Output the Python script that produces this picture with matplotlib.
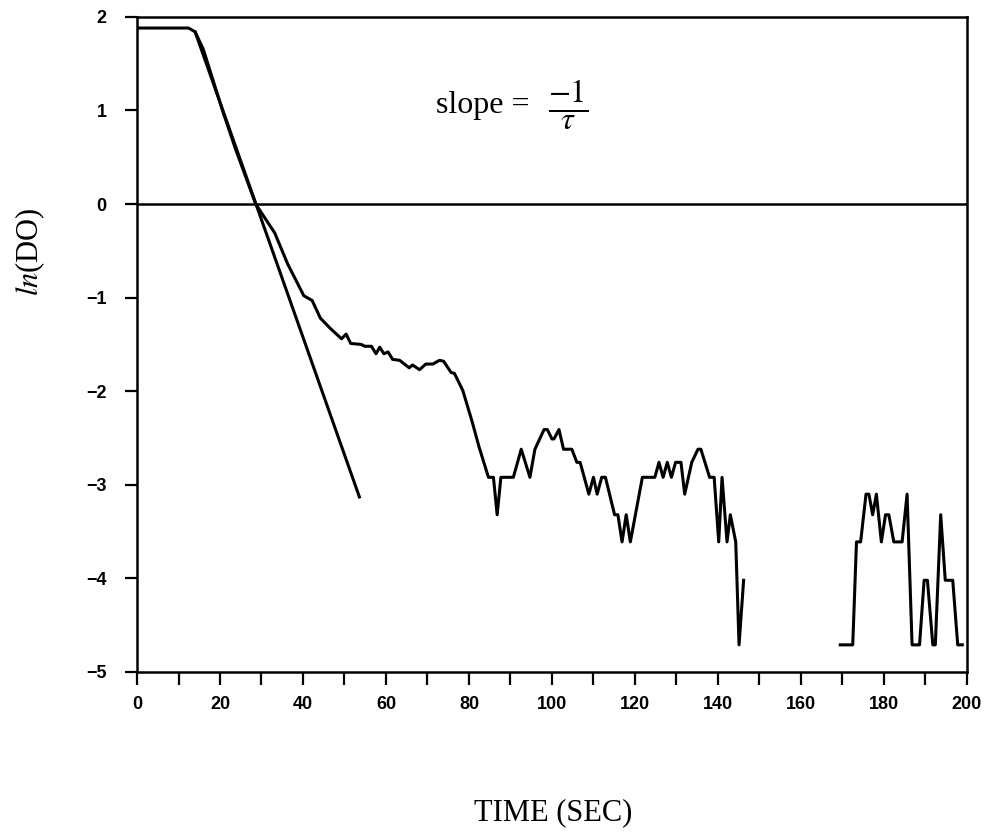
import numpy as np
import matplotlib
matplotlib.use("Agg")
import matplotlib.pyplot as plt
from matplotlib.ticker import MultipleLocator

time_s = [0.0, 12.4, 14.0, 16.0, 20.6, 23.8, 28.6,
          33.2, 36.3, 40.2, 42.2, 44.2, 46.6, 49.3, 50.4, 51.5, 54.0,
          54.9, 56.5, 57.6, 58.5, 59.5, 60.5, 61.6, 63.3, 65.6, 66.4,
          68.1, 69.6, 71.3, 72.9, 73.9, 75.7, 76.5, 78.5, 80.8, 82.4,
          84.7, 85.9, 86.8, 87.7, 90.7, 92.6, 94.7, 95.9, 98.1, 98.9,
          100.0, 100.5, 101.7, 102.8, 104.8, 106.0, 106.8, 108.9, 110.0,
          110.9, 112.0, 112.9, 115.1, 115.9, 116.9, 117.9, 118.9, 121.8,
          124.8, 125.8, 126.8, 127.8, 128.8, 129.8, 131.1, 132.0, 133.7,
          135.2, 135.9, 138.0, 139.1, 140.2, 141.0, 142.2, 143.0, 144.3,
          145.1, 146.2,
          np.nan,
          169.5, 172.5, 173.4, 174.4, 175.7, 176.4, 177.3, 178.2, 179.4,
          180.4, 181.2, 182.4, 184.4, 185.6, 186.8, 188.6, 189.7, 190.5,
          191.8, 192.4, 193.7, 194.8, 196.6, 197.8, 198.9]
ln_do = [1.88, 1.88, 1.84, 1.65, 1.00, 0.58, 0.00,
         -0.31, -0.64, -0.98, -1.03, -1.22, -1.33, -1.44, -1.39, -1.49, -1.50,
         -1.52, -1.52, -1.60, -1.53, -1.60, -1.58, -1.66, -1.67, -1.75, -1.72,
         -1.77, -1.71, -1.71, -1.67, -1.68, -1.80, -1.81, -1.99, -2.33, -2.59,
         -2.92, -2.92, -3.32, -2.92, -2.92, -2.62, -2.92, -2.62, -2.41, -2.41,
         -2.51, -2.51, -2.41, -2.62, -2.62, -2.76, -2.76, -3.10, -2.92,
         -3.10, -2.92, -2.92, -3.32, -3.32, -3.61, -3.32, -3.61, -2.92,
         -2.92, -2.76, -2.92, -2.76, -2.92, -2.76, -2.76, -3.10, -2.76,
         -2.62, -2.62, -2.92, -2.92, -3.61, -2.92, -3.61, -3.32, -3.61,
         -4.71, -4.02,
         np.nan,
         -4.71, -4.71, -3.61, -3.61, -3.10, -3.10, -3.32, -3.10, -3.61,
         -3.32, -3.32, -3.61, -3.61, -3.10, -4.71, -4.71, -4.02, -4.02,
         -4.71, -4.71, -3.32, -4.02, -4.02, -4.71, -4.71]

# straight-line fit through the initial decay (slope = -1/tau)
fit_time = [14.0, 53.6]
fit_ln = [1.84, -3.13]

plt.rcParams['mathtext.fontset'] = 'stix'
serif = 'Liberation Serif'

fig = plt.figure(figsize=(9.95, 8.4), dpi=100, facecolor='w')
ax = fig.add_axes([0.1377, 0.2, 0.834, 0.78])

ax.plot(time_s, ln_do, color='k', lw=2.2)
ax.plot(fit_time, fit_ln, color='k', lw=2.2)
ax.axhline(0, color='k', lw=1.8)

ax.set_xlim(0, 200)
ax.set_ylim(-5, 2)
ax.xaxis.set_major_locator(MultipleLocator(20))
ax.xaxis.set_minor_locator(MultipleLocator(10))
ax.yaxis.set_major_locator(MultipleLocator(1))
ax.tick_params(axis='both', which='both', direction='out', length=9,
               width=1.6, color='k')
ax.tick_params(axis='x', pad=8)
ax.tick_params(axis='y', pad=13)
for lab in ax.get_xticklabels() + ax.get_yticklabels():
    lab.set_fontfamily('Liberation Sans')
    lab.set_fontweight('bold')
    lab.set_fontsize(13)
for sp in ax.spines.values():
    sp.set_linewidth(1.8)

ax.text(72.0, 0.97, 'slope =', fontsize=23, family=serif,
        ha='left', va='baseline')
ax.text(104.0, 1.05, r'$\frac{-1}{\tau}$', fontsize=33,
        ha='center', va='center')

fig.text(0.03, 0.70, r'$\mathit{ln}$(DO)', rotation=90, fontsize=22,
         family=serif, ha='center', va='center')
fig.text(0.556, 0.033, 'TIME (SEC)', fontsize=22, family=serif,
         ha='center', va='center')

fig.savefig('out.png', dpi=100)
plt.close(fig)
